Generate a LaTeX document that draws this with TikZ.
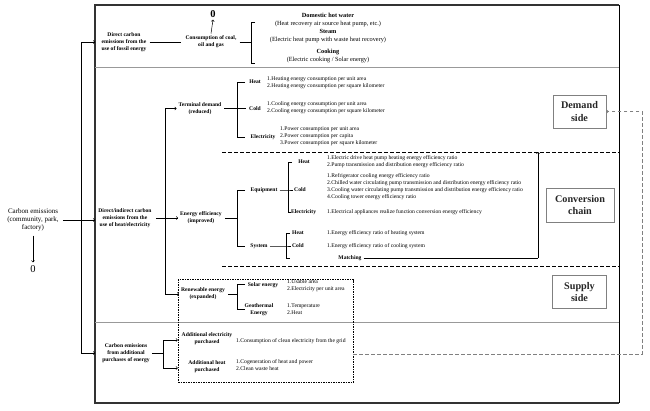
\documentclass[tikz,border=0pt]{standalone}
\usepackage{fontspec}
\setmainfont{Liberation Serif}
\usetikzlibrary{arrows.meta,calc}
\newcommand\fsz{\fontsize{5.65}{7}\selectfont}
\newcommand\fsl{\fontsize{5.6}{7.2}\selectfont}
\newcommand\fst{\fontsize{6.3}{8}\selectfont}
\begin{document}
\begin{tikzpicture}[x=1pt,y=-1pt,
  lbl/.style={inner sep=0pt,align=center,font=\fsl\bfseries},
  itm/.style={inner sep=0pt,align=left,anchor=west,font=\fsz},
  ln/.style={line width=0.5pt},
  arr/.style={line width=0.5pt,-{To[length=2pt,width=3.4pt]}},
  sidebox/.style={draw=gray,line width=0.6pt,fill=white,inner sep=0pt,align=center,font=\fontsize{10.2}{12.5}\selectfont\bfseries,text=black!85},
  sep/.style={gray!80,line width=0.6pt},
  dsh/.style={line width=0.5pt,dash pattern=on 3.5pt off 2.5pt}]
\useasboundingbox (0,0) rectangle (650,410);
% frame
\draw[line width=1.3pt,black!80] (619,5) -- (95,5) -- (95,403) -- (619,403);
\draw[line width=0.6pt] (619,5) -- (619,403);
\draw[sep] (95,67) -- (619,67);
\draw[sep] (95,322) -- (619,322);
% left
\node[inner sep=0pt,align=center,font=\fontsize{7}{8.3}\selectfont] (ce) at (33,220) {Carbon emissions\\(community, park,\\factory)};
\node[inner sep=0pt,font=\fontsize{10.5}{10.5}\selectfont] (z0) at (33,269) {0};
\draw[arr] ([yshift=-4pt]ce.south) -- ([yshift=3pt]z0.north);
\coordinate (lb) at (95,220);
\draw[arr] ($(ce.east)+(4,0)$) -- (lb);
\coordinate (L1) at (81,42); \coordinate (L3) at (81,353);
\coordinate (F1) at (95,42); \coordinate (F3) at (95,353);
\draw[ln] (L1) -- (L3);
\draw[arr] (L1) -- (F1);
\draw[arr] (L3) -- (F3);
% column 1
\node[lbl] (d1) at (124,42) {Direct carbon\\emissions from the\\use of fossil energy};
\node[lbl] (d2) at (125,218) {Direct/indirect carbon\\emissions from the\\use of heat/electricity};
\node[lbl] (d3) at (126,353) {Carbon emissions\\from additional\\purchases of energy};
% top section
\node[lbl] (coal) at (211,42) {Consumption of coal,\\oil and gas};
\node[inner sep=0pt,font=\fontsize{10.5}{10.5}\selectfont\bfseries] (z1) at (213,14) {0};
\draw[arr] ([yshift=2pt]coal.north) -- ([yshift=-2pt]z1.south);
\draw[ln] ($(d1.east)+(3,0)$) -- ($(coal.west)+(-4,0)$);
\coordinate (tb) at (251,42);
\draw[ln] ($(coal.east)+(3,0)$) -- (tb);
\draw[ln] (255,22) -- (251,22) -- (251,63) -- (255,63);
\node[inner sep=0pt,align=center,font=\fst] (dhw) at (328,19.5) {\textbf{Domestic hot water}\\(Heat recovery air source heat pump, etc.)};
\node[inner sep=0pt,align=center,font=\fst] (stm) at (328,36) {\textbf{Steam}\\(Electric heat pump with waste heat recovery)};
\node[inner sep=0pt,align=center,font=\fst] (ckg) at (328,56) {\textbf{Cooking}\\(Electric cooking / Solar energy)};
% middle spine
\node[lbl] (td) at (200,108.5) {Terminal demand\\(reduced)};
\node[lbl] (ee) at (201,218) {Energy efficiency\\(improved)};
\node[lbl] (re) at (203,294) {Renewable energy\\(expanded)};
\coordinate (S1) at (165,108.5); \coordinate (S2) at (165,218); \coordinate (S3) at (165,294);
\draw[ln] (S1) -- (S3);
\draw[arr,shorten >=2pt] (S1) -- (S1 -| td.west);
\draw[arr,shorten >=2pt] ($(d2.east)+(4,0)$) -- (S2 -| ee.west);
\draw[arr,shorten >=2pt] (S3) -- (S3 -| re.west);
% demand
\coordinate (tdB) at (237,108.5);
\draw[ln] ($(td.east)+(3,0)$) -- (tdB) -- (246,108.5);
\draw[ln] (245,82) -- (237,82) -- (237,137) -- (245,137);
\node[lbl] (dh) at (255,82) {Heat};
\node[lbl] (dco) at (255,108.5) {Cold};
\node[lbl] (del) at (263,137) {Electricity};
\node[itm] (dhi) at (267,82.5) {1.Heating energy consumption per unit area\\2.Heating energy consumption per square kilometer};
\node[itm] (dci) at (267,108) {1.Cooling energy consumption per unit area\\2.Cooling energy consumption per square kilometer};
\node[itm] (dei) at (280,136) {1.Power consumption per unit area\\2.Power consumption per capita\\3.Power consumption per square kilometer};
\draw[dsh] (222,152) -- (619,152);
% conversion
\coordinate (eeB) at (237,218);
\draw[ln] ($(ee.east)+(3,0)$) -- (eeB);
\draw[ln] (245,190) -- (237,190) -- (237,246) -- (245,246);
\node[lbl] (eq) at (264,190) {Equipment};
\node[lbl] (sy) at (259,246) {System};
\coordinate (eqB) at (288,190);
\draw[ln] ($(eq.east)+(2,0)$) -- (eqB) -- (293,190);
\draw[ln] (292,162) -- (288,162) -- (288,212) -- (291,212);
\node[lbl] (ech) at (304,162) {Heat};
\node[lbl] (ecc) at (300,190) {Cold};
\node[lbl,anchor=west] (ece) at (291,212) {Electricity};
\node[itm] (ehi) at (327,161.5) {1.Electric drive heat pump heating energy efficiency ratio\\2.Pump transmission and distribution energy efficiency ratio};
\node[itm] (eci) at (327,187) {1.Refrigerator cooling energy efficiency ratio\\2.Chilled water circulating pump transmission and distribution energy efficiency ratio\\3.Cooling water circulating pump transmission and distribution energy efficiency ratio\\4.Cooling tower energy efficiency ratio};
\node[itm] (eei) at (327,212) {1.Electrical appliances realize function conversion energy efficiency};
\coordinate (syB) at (286,246);
\draw[ln] ($(sy.east)+(2,0)$) -- (syB) -- (291,246);
\draw[ln] (290,233) -- (286,233) -- (286,258) -- (290,258);
\node[lbl,anchor=west] (sh) at (292,233) {Heat};
\node[lbl,anchor=west] (sc) at (292,246) {Cold};
\node[itm] (shi) at (327,233) {1.Energy efficiency ratio of heating system};
\node[itm] (sci) at (327,246) {1.Energy efficiency ratio of cooling system};
\node[lbl] (mt) at (350,258) {Matching};
\coordinate (mtC) at (538,258); \coordinate (mtT) at (538,152);
\draw[line width=0.6pt] ($(mt.east)+(2,0)$) -- (mtC);
\draw[arr] (mtC) -- (mtT);
\draw[dsh] (222,266) -- (619,266);
% supply
\node[draw,line width=0.5pt,dash pattern=on 1.5pt off 1pt,minimum width=175pt,minimum height=103pt,inner sep=0pt] (sup) at (265.5,331) {};
\coordinate (reB) at (237,294);
\draw[ln] ($(re.east)+(3,0)$) -- (reB);
\draw[ln] (245,284) -- (237,284) -- (237,309) -- (245,309);
\node[lbl] (so) at (263,285) {Solar energy};
\node[lbl] (geo) at (259,309.5) {Geothermal\\Energy};
\node[itm] (soi) at (287,285.5) {1.Usable area\\2.Electricity per unit area};
\node[itm] (geoi) at (287,309.5) {1.Temperature\\2.Heat};
% bottom
\coordinate (d3B) at (163,353);
\draw[ln] ($(d3.east)+(2,0)$) -- (d3B);
\coordinate (b1) at (163,340); \coordinate (b2) at (163,368);
\draw[ln] (b1) -- (b2);
\draw[arr] (b1) -- (b1 -| sup.west);
\draw[arr] (b2) -- (b2 -| sup.west);
\node[lbl] (ae) at (207,339) {Additional electricity\\purchased};
\node[lbl] (ah) at (207,367) {Additional heat\\purchased};
\node[itm] (aei) at (236,341) {1.Consumption of clean electricity from the grid};
\node[itm] (ahi) at (236,365.5) {1.Cogeneration of heat and power\\2.Clean waste heat};
% right boxes
\node[sidebox,minimum width=53pt,minimum height=33pt] (ds) at (579.5,111.5) {Demand\\side};
\node[sidebox,minimum width=68pt,minimum height=34pt] (cch) at (580,205) {Conversion\\chain};
\node[sidebox,minimum width=54pt,minimum height=33pt] (ss) at (579.5,292) {Supply\\side};
% feedback
\coordinate (fb2) at (642,354); \coordinate (fb3) at (642,111.5);
\draw[dsh,gray,-{To[length=2pt,width=3.4pt]}] (sup.east |- fb2) -- (fb2) -- (fb3) -- (ds.east);
\end{tikzpicture}
\end{document}
